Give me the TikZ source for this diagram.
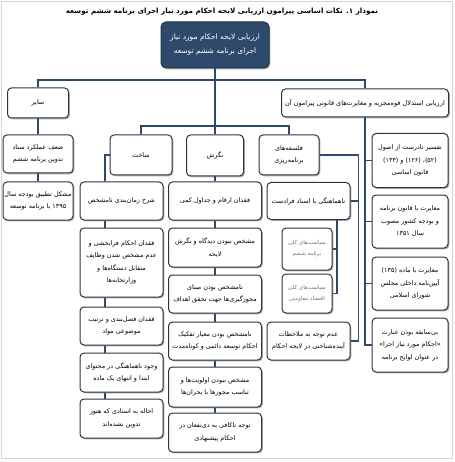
\documentclass[tikz,border=0pt]{standalone}
\usepackage{fontspec}
\usetikzlibrary{shadows}
\TeXXeTstate=1
\newfontfamily\farsi[Script=Arabic]{DejaVu Sans}
\newcommand{\fa}[1]{\beginR #1\endR}
\definecolor{navy}{HTML}{2E4A6B}
\definecolor{boxline}{HTML}{2B3440}
\definecolor{framegray}{HTML}{D4D4D4}
\tikzset{
  box/.style={draw=boxline, line width=1pt, rounded corners=4pt, fill=white,
    align=center, inner sep=1pt,
    drop shadow={shadow xshift=1.3pt, shadow yshift=-1.3pt, opacity=0.45, fill=black!70},
    font=\farsi\fontsize{6.4}{12.5}\selectfont},
  subbox/.style={box, font=\farsi\fontsize{5.5}{11}\selectfont, text=black!55},
  rootbox/.style={box, fill=navy, draw=navy!70!black, text=white, rounded corners=5pt,
    font=\farsi\fontsize{7.5}{14}\selectfont},
  link/.style={draw=navy, line width=1.4pt},
}

\begin{document}
\begin{tikzpicture}[x=1pt, y=-1pt]
    \useasboundingbox (0,0) rectangle (454,462);
    \draw[framegray, line width=0.6pt] (1.5,1.5) rectangle (452.5,458);
    \node[font=\farsi\bfseries\fontsize{7.2}{10}\selectfont] (title) at (222,12)
        {\fa{نمودار ۱. نکات اساسی پیرامون ارزیابی لایحه احکام مورد نیاز اجرای برنامه ششم توسعه}};
    % root and first level
    \node[rootbox, minimum width=108, minimum height=46] (root) at (215,45)
        {\fa{ارزیابی لایحه احکام مورد نیاز}\\\fa{اجرای برنامه ششم توسعه}};
    \node[box, minimum width=61, minimum height=30] (sayer) at (38,103) {\fa{سایر}};
    \node[box, minimum width=167, minimum height=28, font=\farsi\fontsize{6.5}{12}\selectfont] (head) at (365,103)
        {\fa{ارزیابی استدلال قوه^^^^200cمجریه و مغایرت^^^^200cهای قانونی پیرامون آن}};
    \node[box, minimum width=62, minimum height=40] (sakht) at (141,155) {\fa{ساخت}};
    \node[box, minimum width=57, minimum height=41] (negaresh) at (215,155.5) {\fa{نگرش}};
    \node[box, minimum width=60, minimum height=40] (falsafe) at (289,155)
        {\fa{فلسفه^^^^200cهای}\\\fa{برنامه^^^^200cریزی}};
    % other
    \node[box, minimum width=70, minimum height=38] (zaf) at (38,154)
        {\fa{ضعف عملکرد ستاد}\\\fa{تدوین برنامه ششم}};
    \node[box, minimum width=70, minimum height=38] (moshkel) at (38,201)
        {\fa{مشکل تطبیق بودجه سال}\\\fa{۱۳۹۵ با برنامه توسعه}};
    % legal arguments
    \node[box, minimum width=76, minimum height=54] (r1) at (410,160.5)
        {\fa{تفسیر نادرست از اصول}\\\fa{(۵۲)، (۱۲۶) و (۱۳۴)}\\\fa{قانون اساسی}};
    \node[box, minimum width=76, minimum height=53] (r2) at (410,221.5)
        {\fa{مغایرت با قانون برنامه}\\\fa{و بودجه کشور مصوب}\\\fa{سال ۱۳۵۱}};
    \node[box, minimum width=76, minimum height=53] (r3) at (410,283.5)
        {\fa{مغایرت با ماده (۱۳۵)}\\\fa{آیین^^^^200cنامه داخلی مجلس}\\\fa{شورای اسلامی}};
    \node[box, minimum width=76, minimum height=54] (r4) at (410,345)
        {\fa{بی^^^^200cسابقه بودن عبارت}\\\fa{«احکام مورد نیاز اجرا»}\\\fa{در عنوان لوایح برنامه}};
    % structure
    \node[box, minimum width=83, minimum height=38] (s1) at (121.5,201)
        {\fa{شرح زمان^^^^200cبندی نامشخص}};
    \node[box, minimum width=83, minimum height=69] (s2) at (121.5,262.5)
        {\fa{فقدان احکام فرابخشی و}\\\fa{عدم مشخص شدن وظایف}\\\fa{متقابل دستگاه^^^^200cها و}\\\fa{وزارتخانه^^^^200cها}};
    \node[box, minimum width=83, minimum height=38] (s3) at (121.5,326)
        {\fa{فقدان فصل^^^^200cبندی و ترتیب}\\\fa{موضوعی مواد}};
    \node[box, minimum width=83, minimum height=39] (s4) at (121.5,372.5)
        {\fa{وجود ناهماهنگی در محتوای}\\\fa{ابتدا و انتهای یک ماده}};
    \node[box, minimum width=83, minimum height=39] (s5) at (121.5,418.5)
        {\fa{احاله به اسنادی که هنوز}\\\fa{تدوین نشده^^^^200cاند}};
    % attitude
    \node[box, minimum width=93, minimum height=38] (n1) at (215,201)
        {\fa{فقدان ارقام و جداول کمی}};
    \node[box, minimum width=93, minimum height=39] (n2) at (215,247.5)
        {\fa{مشخص نبودن دیدگاه و نگرش}\\\fa{لایحه}};
    \node[box, minimum width=93, minimum height=38] (n3) at (215,294)
        {\fa{نامشخص بودن مبنای}\\\fa{مجوزگیری^^^^200cها جهت تحقق اهداف}};
    \node[box, minimum width=93, minimum height=38] (n4) at (215,341)
        {\fa{نامشخص بودن معیار تفکیک}\\\fa{احکام توسعه دائمی و کوتاه^^^^200cمدت}};
    \node[box, minimum width=93, minimum height=40] (n5) at (215,387)
        {\fa{مشخص نبودن اولویت^^^^200cها و}\\\fa{تناسب مجوزها با بحران^^^^200cها}};
    \node[box, minimum width=93, minimum height=39] (n6) at (215,432.5)
        {\fa{توجه ناکافی به ذی^^^^200cنفعان در}\\\fa{احکام پیشنهادی}};
    % planning philosophy
    \node[box, minimum width=83, minimum height=37] (f1) at (308.5,201)
        {\fa{ناهماهنگی با اسناد فرادست}};
    \node[subbox, minimum width=50, minimum height=42] (f1a) at (307,249)
        {\fa{سیاست^^^^200cهای کلی}\\\fa{برنامه ششم}};
    \node[subbox, minimum width=50, minimum height=39] (f1b) at (307,293.5)
        {\fa{سیاست^^^^200cهای کلی}\\\fa{اقتصاد مقاومتی}};
    \node[box, minimum width=83, minimum height=38] (f2) at (308.5,341)
        {\fa{عدم توجه به ملاحظات}\\\fa{آینده^^^^200cشناختی در لایحه احکام}};
    % connectors
    \coordinate (bus) at (215,80);
    \coordinate (mid) at (215,126);
    \draw[link] (root.south) -- (bus);
    \draw[link] (sayer.north) |- (bus) -| (head.north);
    \draw[link] (bus) -- (negaresh.north);
    \draw[link] (sakht.north) |- (mid) -| (falsafe.north);
    \draw[link] (sayer.south) -- (zaf.north);
    \draw[link] (zaf.south) -- (moshkel.north);
    \draw[link] (head.south) |- (r4.west);
    \foreach \r in {r1,r2,r3}
        \draw[link] (\r.west) -- (\r.west -| head.south);
    \draw[link] (sakht.west) -| ([xshift=-16.5pt]s1.north);
    \foreach \a/\b in {s1/s2,s2/s3,s3/s4,s4/s5}
        \draw[link] ([xshift=-16.5pt]\a.south) -- ([xshift=-16.5pt]\b.north);
    \foreach \a/\b in {negaresh/n1,n1/n2,n2/n3,n3/n4,n4/n5,n5/n6}
        \draw[link] (\a.south) -- (\b.north);
    \draw[link] (falsafe.east) -| ([xshift=8pt]f2.east) -- (f2.east);
    \draw[link] (f1.east) -- ([xshift=8pt]f1.east);
    \draw[link] ([xshift=28.5pt]f1.south) |- (f1b.east);
    \draw[link] (f1a.east) -- ([xshift=5pt]f1a.east);
\end{tikzpicture}
\end{document}
